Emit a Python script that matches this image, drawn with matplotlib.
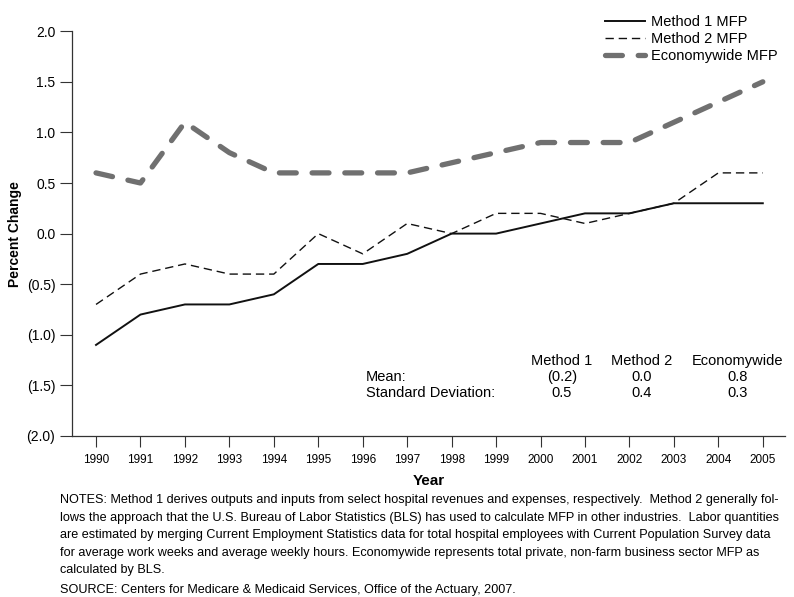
import matplotlib.pyplot as plt
from matplotlib.ticker import FuncFormatter

years = list(range(1990, 2006))
method1 = [-1.1, -0.8, -0.7, -0.7, -0.6, -0.3, -0.3, -0.2, 0.0, 0.0, 0.1, 0.2, 0.2, 0.3, 0.3, 0.3]
method2 = [-0.7, -0.4, -0.3, -0.4, -0.4, 0.0, -0.2, 0.1, 0.0, 0.2, 0.2, 0.1, 0.2, 0.3, 0.6, 0.6]
economy = [0.6, 0.5, 1.1, 0.8, 0.6, 0.6, 0.6, 0.6, 0.7, 0.8, 0.9, 0.9, 0.9, 1.1, 1.3, 1.5]

stat_cols = ['Method 1', 'Method 2', 'Economywide']
stat_rows = ['Mean:', 'Standard Deviation:']
stat_vals = [['(0.2)', '0.0', '0.8'], ['0.5', '0.4', '0.3']]

notes = ("NOTES: Method 1 derives outputs and inputs from select hospital revenues and expenses, respectively.  Method 2 generally fol-\n"
         "lows the approach that the U.S. Bureau of Labor Statistics (BLS) has used to calculate MFP in other industries.  Labor quantities\n"
         "are estimated by merging Current Employment Statistics data for total hospital employees with Current Population Survey data\n"
         "for average work weeks and average weekly hours. Economywide represents total private, non-farm business sector MFP as\n"
         "calculated by BLS.")
source = "SOURCE: Centers for Medicare & Medicaid Services, Office of the Actuary, 2007."

plt.rcParams['font.family'] = ['Liberation Sans', 'DejaVu Sans']

fig = plt.figure(figsize=(7.94, 5.97), dpi=100)
ax = fig.add_axes([0.0907, 0.2697, 0.898, 0.678])

ax.plot(years, method1, color='#111111', lw=1.4, label='Method 1 MFP')
ax.plot(years, method2, color='#111111', lw=1.0, dashes=(6, 3.5), label='Method 2 MFP')
ax.plot(years, economy, color='#707070', lw=3.8, dashes=(3.2, 3.0),
        dash_capstyle='round', label='Economywide MFP')

ax.set_xlim(1989.46, 2005.5)
ax.set_ylim(-2.0, 2.0)
ax.set_xticks(years)
ax.set_xticklabels([str(y) for y in years], fontsize=8.5)
ax.set_yticks([-2.0, -1.5, -1.0, -0.5, 0.0, 0.5, 1.0, 1.5, 2.0])
ax.yaxis.set_major_formatter(FuncFormatter(lambda v, p: '(%.1f)' % abs(v) if v < 0 else '%.1f' % v))
ax.tick_params(axis='y', labelsize=10, length=9, width=0.8, color='#333333', pad=3)
ax.tick_params(axis='x', length=8, width=0.8, color='#333333', pad=5)
for s in ['top', 'right']:
    ax.spines[s].set_visible(False)
for s in ['left', 'bottom']:
    ax.spines[s].set_linewidth(0.9)
    ax.spines[s].set_color('#333333')

ax.set_xlabel('Year', fontsize=11, fontweight='bold', labelpad=6)
ax.set_ylabel('Percent Change', fontsize=10, fontweight='bold', labelpad=3)

ax.legend(loc='upper right', bbox_to_anchor=(0.998, 1.055), frameon=False, fontsize=10.5,
          handlelength=2.75, handletextpad=0.4, labelspacing=0.2, borderaxespad=0)

# summary table
col_x = [2000.48, 2002.28, 2004.44]
for cx, c in zip(col_x, stat_cols):
    ax.text(cx, -1.26, c, ha='center', va='center', fontsize=10.5)
for i, r in enumerate(stat_rows):
    ax.text(1996.07, -1.42 - 0.16 * i, r, ha='left', va='center', fontsize=10.5)
    for cx, v in zip(col_x, stat_vals[i]):
        ax.text(cx, -1.42 - 0.16 * i, v, ha='center', va='center', fontsize=10.5)

fig.text(0.0755, 0.172, notes, ha='left', va='top', fontsize=9.1, linespacing=1.6)
fig.text(0.0755, 0.0117, source, ha='left', va='center', fontsize=9.1)

fig.savefig('out.png', dpi=100)
